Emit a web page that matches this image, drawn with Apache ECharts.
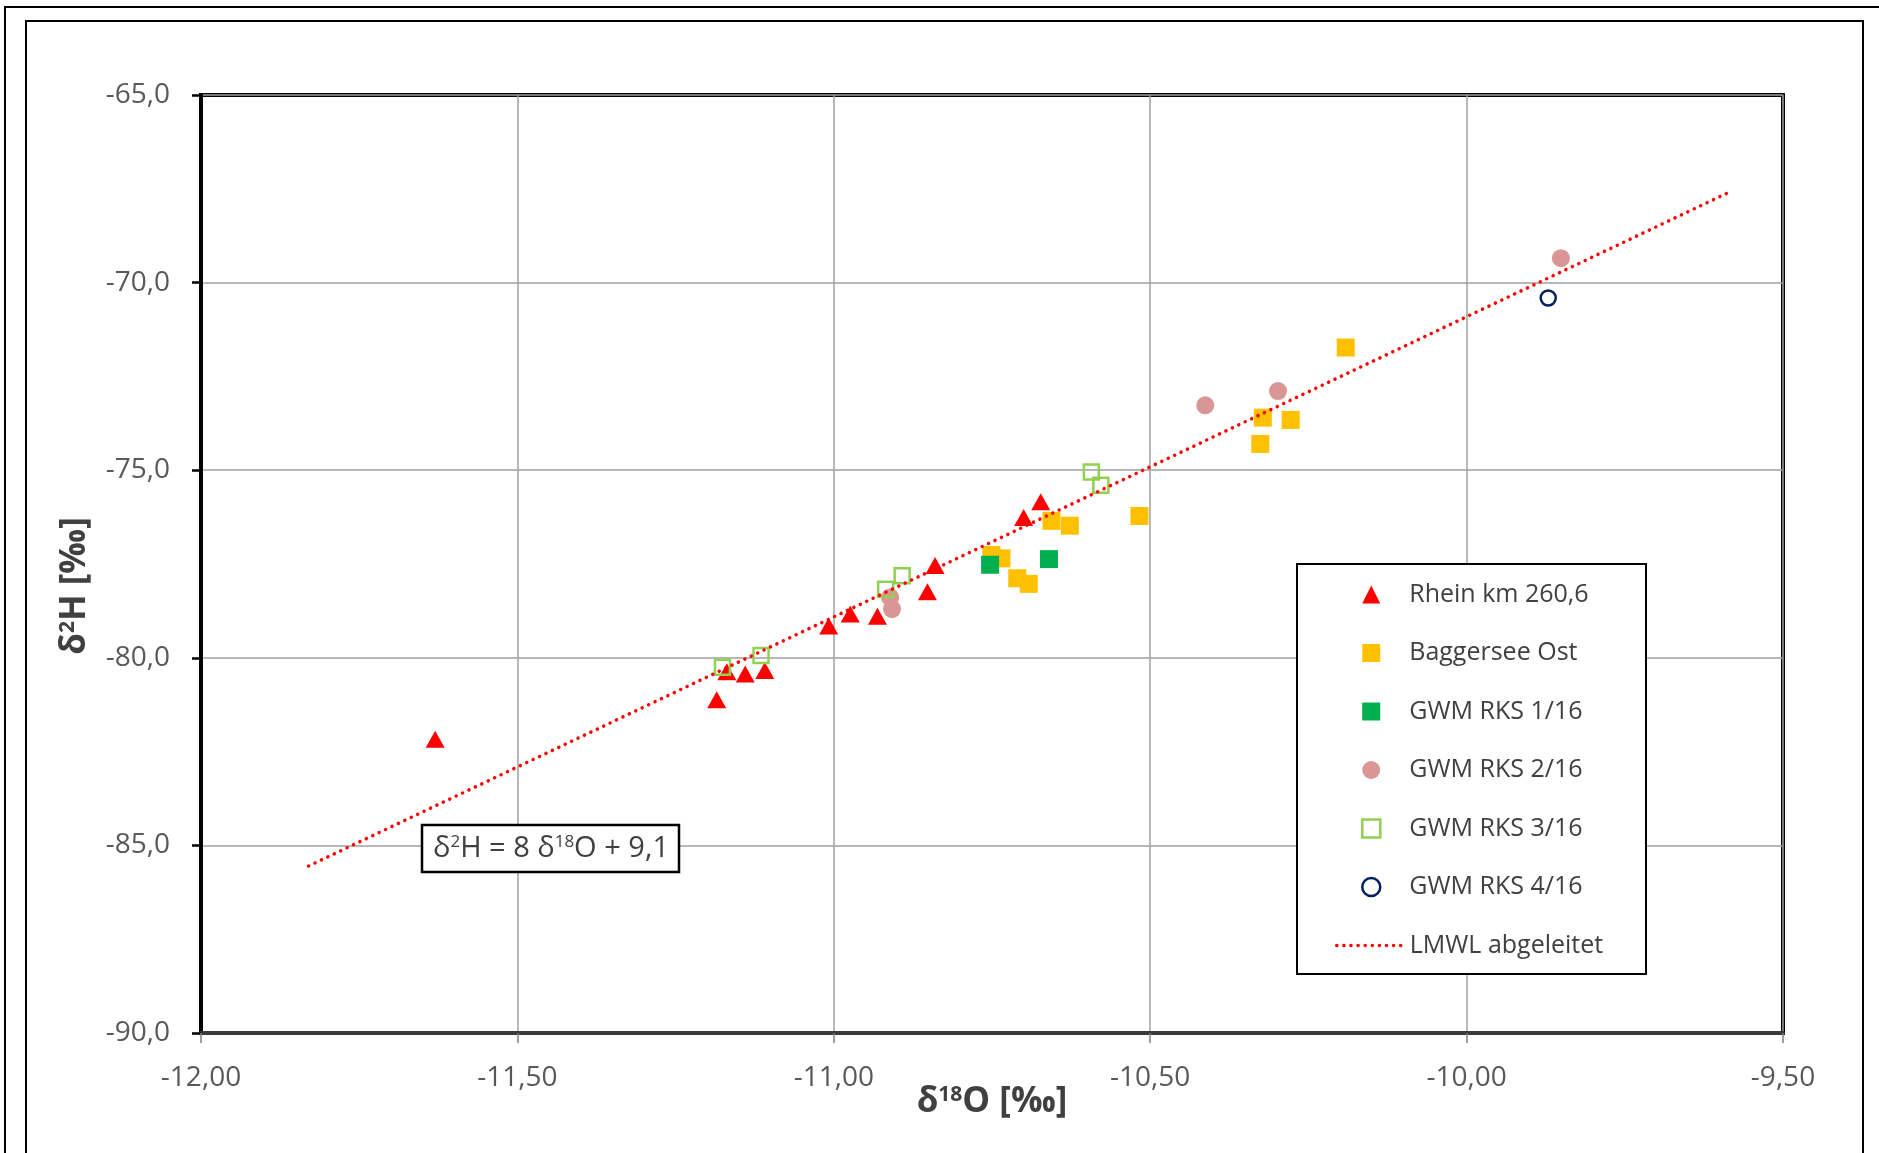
<!DOCTYPE html>
<html><head><meta charset="utf-8">
<script src="https://cdn.jsdelivr.net/npm/echarts@6/dist/echarts.min.js"></script>
<style>html,body{margin:0;padding:0;background:#fff}#c{width:1879px;height:1153px}</style>
</head><body><div id="c"></div>
<script>
// ---- data ----
const xTicks = [-12, -11.5, -11, -10.5, -10, -9.5];
const xTickLabels = ['-12,00', '-11,50', '-11,00', '-10,50', '-10,00', '-9,50'];
const yTicks = [-90, -85, -80, -75, -70, -65];
const yTickLabels = ['-90,0', '-85,0', '-80,0', '-75,0', '-70,0', '-65,0'];

const seriesNames = ['Rhein km 260,6', 'Baggersee Ost', 'GWM RKS 1/16', 'GWM RKS 2/16', 'GWM RKS 3/16', 'GWM RKS 4/16', 'LMWL abgeleitet'];

const rheinX = [-11.630, -11.185, -11.169, -11.140, -11.109, -11.008, -10.974, -10.931, -10.852, -10.840, -10.700, -10.673];
const rheinY = [-82.17, -81.12, -80.37, -80.43, -80.34, -79.15, -78.83, -78.89, -78.24, -77.54, -76.26, -75.84];

const baggX = [-10.751, -10.735, -10.710, -10.692, -10.656, -10.627, -10.517, -10.322, -10.278, -10.326, -10.191];
const baggY = [-77.26, -77.35, -77.88, -78.03, -76.35, -76.48, -76.22, -73.60, -73.66, -74.30, -71.73];

const gwm1X = [-10.753, -10.660];
const gwm1Y = [-77.52, -77.37];

const gwm2X = [-10.911, -10.908, -10.413, -10.298, -9.851];
const gwm2Y = [-78.39, -78.70, -73.27, -72.89, -69.35];

const gwm3X = [-11.176, -11.115, -10.918, -10.892, -10.593, -10.578];
const gwm3Y = [-80.25, -79.94, -78.17, -77.81, -75.05, -75.40];

const gwm4X = [-9.871];
const gwm4Y = [-70.41];

const lmwlX = [-11.83, -9.58];
const lmwlY = [-85.55, -67.55];

const equationText = 'δ{s|2}H = 8 δ{s|18}O + 9,1';
const xAxisTitle = 'δ{s|18}O [‰]';
const yAxisTitle = 'δ{s|2}H [‰]';

// ---- helpers ----
const FONT = "'Segoe UI', 'Open Sans', sans-serif";
function pairs(xs, ys) { return xs.map((x, i) => [x, ys[i]]); }
function tickLabel(ticks, labels) {
  return v => { const i = ticks.findIndex(t => Math.abs(t - v) < 1e-6); return i >= 0 ? labels[i] : ''; };
}
const dotted = { color: '#ff0000', width: 3.5, type: [0.1, 7], cap: 'round' };
const titleRich = { s: { fontSize: 21, fontWeight: 'bold', color: '#404040', verticalAlign: 'top', fontFamily: FONT } };
const legendText = { fontSize: 25, color: '#404040', fontFamily: FONT };

const chart = echarts.init(document.getElementById('c'), null, { renderer: 'canvas' });
chart.setOption({
  animation: false,
  backgroundColor: '#ffffff',
  textStyle: { fontFamily: FONT },
  grid: { left: 201, top: 95, right: 96, bottom: 120, show: true, borderColor: '#000', borderWidth: 4, backgroundColor: 'transparent' },
  xAxis: {
    type: 'value', min: -12, max: -9.5, interval: 0.5,
    axisLine: { show: true, onZero: false, lineStyle: { color: '#3a3a3a', width: 4 } },
    axisTick: { show: true, length: 10, lineStyle: { color: '#808080', width: 1.5 } },
    splitLine: { show: true, lineStyle: { color: '#a0a0a0', width: 1.5 } },
    axisLabel: { formatter: tickLabel(xTicks, xTickLabels), fontSize: 28, color: '#595959', margin: 31, fontFamily: FONT },
    name: xAxisTitle, nameLocation: 'middle', nameGap: 52, nameMoveOverlap: false,
    nameTextStyle: { fontSize: 35, fontWeight: 'bold', color: '#404040', fontFamily: FONT, rich: titleRich }
  },
  yAxis: {
    type: 'value', min: -90, max: -65, interval: 5,
    axisLine: { show: true, onZero: false, lineStyle: { color: '#000', width: 4 } },
    axisTick: { show: true, length: 9, lineStyle: { color: '#000', width: 2.5 } },
    splitLine: { show: true, lineStyle: { color: '#a0a0a0', width: 1.5 } },
    axisLabel: { formatter: tickLabel(yTicks, yTickLabels), fontSize: 28, color: '#595959', margin: 31, fontFamily: FONT },
    name: yAxisTitle, nameLocation: 'middle', nameGap: 108, nameMoveOverlap: false,
    nameTextStyle: { fontSize: 35, fontWeight: 'bold', color: '#404040', fontFamily: FONT, padding: [0, 44, 0, 0], rich: titleRich }
  },
  legend: [
    {
      orient: 'vertical', left: 1361, top: 582, z: 20,
      itemWidth: 18, itemHeight: 18, itemGap: 33.5, padding: 0,
      textStyle: Object.assign({ padding: [0, 0, 0, 24] }, legendText),
      selectedMode: false,
      data: [
        { name: seriesNames[0], icon: 'triangle' },
        { name: seriesNames[1], icon: 'rect' },
        { name: seriesNames[2], icon: 'rect' },
        { name: seriesNames[3], icon: 'circle' },
        { name: seriesNames[4], icon: 'rect', itemStyle: { color: 'rgba(0,0,0,0)', borderColor: '#92d050', borderWidth: 2.5 } },
        { name: seriesNames[5], icon: 'circle', itemStyle: { color: 'rgba(0,0,0,0)', borderColor: '#002060', borderWidth: 2.5 } }
      ]
    },
    {
      orient: 'vertical', left: 1335, top: 933, z: 20,
      itemWidth: 64, itemHeight: 18, padding: 0,
      textStyle: Object.assign({ padding: [0, 0, 0, 4] }, legendText),
      selectedMode: false,
      data: [ { name: seriesNames[6], itemStyle: { opacity: 0 }, lineStyle: dotted } ]
    }
  ],
  graphic: [
    { type: 'rect', silent: true, z: -10, shape: { x: 5, y: 7, width: 1900, height: 1200 }, style: { fill: 'none', stroke: '#000', lineWidth: 2 } },
    { type: 'rect', silent: true, z: -10, shape: { x: 26, y: 21, width: 1837, height: 1200 }, style: { fill: 'none', stroke: '#000', lineWidth: 2 } },
    { type: 'rect', z: 10, shape: { x: 1297, y: 564, width: 349, height: 410 }, style: { fill: '#fff', stroke: '#000', lineWidth: 2 } },
    { type: 'rect', z: 100, shape: { x: 422, y: 825, width: 257, height: 47 }, style: { fill: '#fff', stroke: '#000', lineWidth: 2.5 } },
    { type: 'text', z: 101, x: 551, y: 849,
      style: { text: equationText, fontSize: 29, fontFamily: FONT, fill: '#404040', align: 'center', verticalAlign: 'middle', lineHeight: 30,
        rich: { s: { fontSize: 17, lineHeight: 17, fontFamily: FONT, fill: '#404040', verticalAlign: 'top' } } } }
  ],
  series: [
    { name: seriesNames[0], type: 'scatter', data: pairs(rheinX, rheinY), symbol: 'triangle', symbolSize: [19, 17], itemStyle: { color: '#ff0000', opacity: 1 }, z: 2 },
    { name: seriesNames[1], type: 'scatter', data: pairs(baggX, baggY), symbol: 'rect', symbolSize: 18, itemStyle: { color: '#ffc000', opacity: 1 }, z: 2 },
    { name: seriesNames[2], type: 'scatter', data: pairs(gwm1X, gwm1Y), symbol: 'rect', symbolSize: 18, itemStyle: { color: '#00b050', opacity: 1 }, z: 2 },
    { name: seriesNames[3], type: 'scatter', data: pairs(gwm2X, gwm2Y), symbol: 'circle', symbolSize: 18, itemStyle: { color: '#d99694', opacity: 1 }, z: 2 },
    { name: seriesNames[4], type: 'scatter', data: pairs(gwm3X, gwm3Y), symbol: 'rect', symbolSize: 15, itemStyle: { color: 'rgba(0,0,0,0)', borderColor: '#92d050', borderWidth: 2.5, opacity: 1 }, z: 2 },
    { name: seriesNames[5], type: 'scatter', data: pairs(gwm4X, gwm4Y), symbol: 'circle', symbolSize: 15, itemStyle: { color: 'rgba(0,0,0,0)', borderColor: '#002060', borderWidth: 2.5, opacity: 1 }, z: 2 },
    { name: seriesNames[6], type: 'line', data: pairs(lmwlX, lmwlY), symbol: 'none', showSymbol: false, lineStyle: dotted, itemStyle: { color: '#ff0000' }, z: 3 }
  ]
});
</script>
</body></html>
